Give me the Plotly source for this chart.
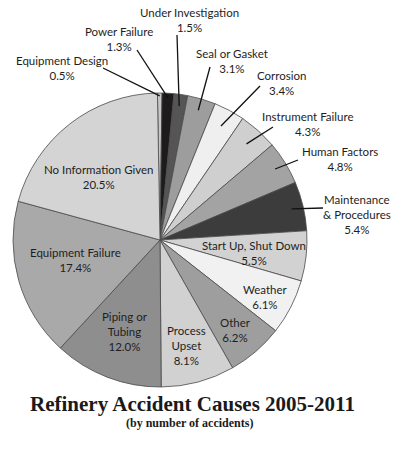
import math
import plotly.graph_objects as go

W, H = 396, 449

causes = ["Equipment Design", "Power Failure", "Under Investigation", "Seal or Gasket",
          "Corrosion", "Instrument Failure", "Human Factors", "Maintenance & Procedures",
          "Start Up, Shut Down", "Weather", "Other", "Process Upset", "Piping or Tubing",
          "Equipment Failure", "No Information Given"]
percent = [0.5, 1.3, 1.5, 3.1, 3.4, 4.3, 4.8, 5.4, 5.5, 6.1, 6.2, 8.1, 12.0, 17.4, 20.5]
label_text = ["Equipment Design", "Power Failure", "Under Investigation", "Seal or Gasket",
              "Corrosion", "Instrument Failure", "Human Factors", "Maintenance<br>& Procedures",
              "Start Up, Shut Down", "Weather", "Other", "Process<br>Upset", "Piping or<br>Tubing",
              "Equipment Failure", "No Information Given"]
colors = ["#c6c6c6", "#1e1b1c", "#555555", "#9d9d9d", "#efefef", "#cfcfcf", "#a3a3a3",
          "#3c3c3c", "#d2d2d2", "#f1f1f1", "#9e9e9e", "#d1d1d1", "#8e8e8e", "#a9a9a9", "#d4d4d4"]

# layout (pixels)
cx, cy, R = 160, 240, 147
rotation = -1
label_pos = [(62, 68.5), (119, 39.5), (189, 20.5), (232, 60.5), (281, 82.5), (308, 124.5),
             (340, 159), (357, 214.5), (254, 253.5), (265, 297), (236, 330), (186, 345.5),
             (125, 331.5), (75, 260), (99, 176.5)]
leader_out = {0: (103, 68), 1: (137, 50), 2: (177, 35), 3: (210, 67), 4: (260, 86),
              5: (273, 127), 6: (298, 160), 7: (323, 208)}
leader_r = {0: 0.98, 1: 0.97, 2: 0.92, 3: 0.92, 4: 0.88, 5: 0.88, 6: 0.92, 7: 0.92}

px = lambda x: x / W
py = lambda y: 1 - y / H

fig = go.Figure(go.Pie(
    labels=causes, values=percent, sort=False, direction="clockwise", rotation=rotation,
    textinfo="none", hoverinfo="label+value", showlegend=False,
    marker=dict(colors=colors, line=dict(color="#4a4a4a", width=0.8)),
    domain=dict(x=[px(cx - R), px(cx + R)], y=[py(cy + R), py(cy - R)]),
))

total = sum(percent)
cum = 0
shapes = []
annotations = []
font = dict(family="Lato, Open Sans, sans-serif", size=11.5, color="#1e1e1e")
for i, v in enumerate(percent):
    mid = math.radians(rotation + 360 * (cum + v / 2) / total)
    cum += v
    lx, ly = label_pos[i]
    annotations.append(dict(x=px(lx), y=py(ly), xref="paper", yref="paper",
                            text=f"{label_text[i]}<br>{v:.1f}%", showarrow=False,
                            xanchor="center", yanchor="middle", align="center", font=font))
    if i in leader_out:
        r = R * leader_r[i]
        ix, iy = cx + r * math.sin(mid), cy - r * math.cos(mid)
        ox, oy = leader_out[i]
        shapes.append(dict(type="line", xref="paper", yref="paper",
                           x0=px(ox), y0=py(oy), x1=px(ix), y1=py(iy),
                           line=dict(color="#111111", width=1.3)))

annotations.append(dict(x=px(192), y=py(404), xref="paper", yref="paper",
                        text="<b>Refinery Accident Causes 2005-2011</b>", showarrow=False,
                        xanchor="center", yanchor="middle",
                        font=dict(family="Liberation Serif, serif", size=21, color="#1a1a1a")))
annotations.append(dict(x=px(189), y=py(423), xref="paper", yref="paper",
                        text="<b>(by number of accidents)</b>", showarrow=False,
                        xanchor="center", yanchor="middle",
                        font=dict(family="Liberation Serif, serif", size=12, color="#1a1a1a")))

fig.update_layout(width=W, height=H, margin=dict(l=0, r=0, t=0, b=0),
                  paper_bgcolor="white", plot_bgcolor="white",
                  shapes=shapes, annotations=annotations)
fig.write_html("out.html")
